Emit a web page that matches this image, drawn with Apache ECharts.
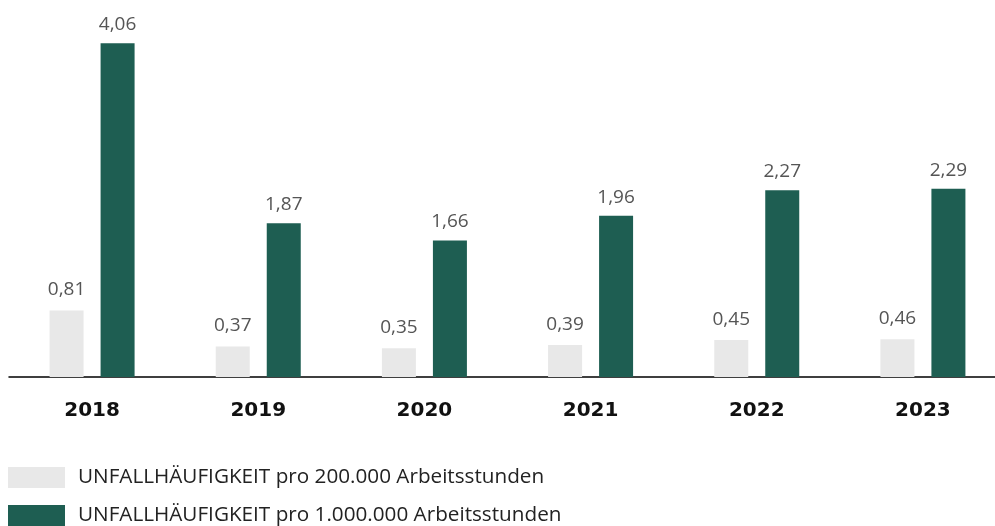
<!DOCTYPE html>
<html>
<head>
<meta charset="utf-8">
<script src="https://cdn.jsdelivr.net/npm/echarts@6/dist/echarts.min.js"></script>
<style>
  html, body {margin: 0; padding: 0; background: #fff;}
  #chart {width: 995px; height: 526px;}
</style>
</head>
<body>
<div id="chart"></div>
<script>
const years = ['2018', '2019', '2020', '2021', '2022', '2023'];
const rate200k = [0.81, 0.37, 0.35, 0.39, 0.45, 0.46];
const rate1m = [4.06, 1.87, 1.66, 1.96, 2.27, 2.29];
const seriesNames = [
    'UNFALLHÄUFIGKEIT pro 200.000 Arbeitsstunden',
    'UNFALLHÄUFIGKEIT pro 1.000.000 Arbeitsstunden'
];

const font = '"Open Sans", Roboto, sans-serif';
const fmt = (p) => p.value.toFixed(2).replace('.', ',');

const chart = echarts.init(document.getElementById('chart'));
chart.setOption({
    animation: false,
    textStyle: {fontFamily: font},
    grid: {left: 9, width: 997, top: 7, bottom: 149, outerBoundsMode: 'none'},
    legend: {
        orient: 'vertical',
        left: 8,
        top: 467,
        padding: 0,
        itemWidth: 57,
        itemHeight: 21,
        itemGap: 17,
        icon: 'rect',
        textStyle: {fontSize: 20.7, color: '#222', padding: [0, 0, 0, 8], fontFamily: font},
        data: seriesNames
    },
    xAxis: {
        type: 'category',
        data: years,
        axisTick: {show: false},
        axisLine: {lineStyle: {color: '#000', width: 1.5}},
        axisLabel: {
            fontSize: 20,
            fontWeight: 'bold',
            fontFamily: '"DejaVu Sans", sans-serif',
            color: '#111',
            margin: 24
        }
    },
    yAxis: {
        type: 'value',
        min: 0,
        max: 4.5,
        show: false
    },
    series: [
        {
            name: seriesNames[0],
            type: 'bar',
            data: rate200k,
            barWidth: 34,
            barGap: '50%',
            itemStyle: {color: '#e8e8e8'},
            label: {show: true, position: 'top', distance: 11, fontSize: 19, color: '#555', formatter: fmt}
        },
        {
            name: seriesNames[1],
            type: 'bar',
            data: rate1m,
            barWidth: 34,
            barGap: '50%',
            itemStyle: {color: '#1e5e52'},
            label: {show: true, position: 'top', distance: 9, fontSize: 19, color: '#555', formatter: fmt}
        }
    ]
});
</script>
</body>
</html>
